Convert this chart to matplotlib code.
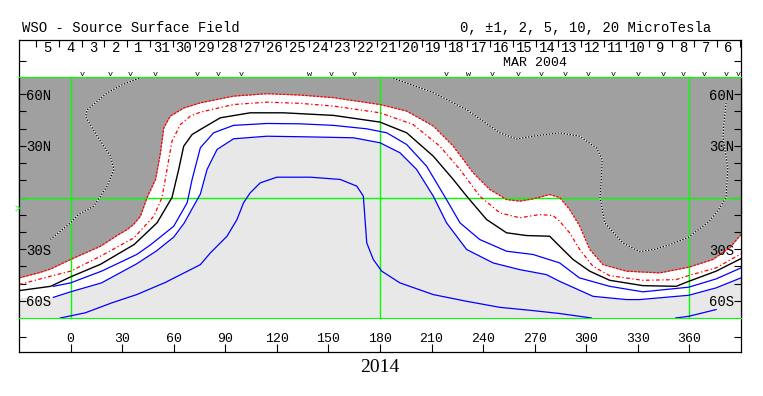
''' WSO source surface field map '''
import numpy as np
import matplotlib.pyplot as plt

# contours: (carrington longitude, latitude)
pos5a_lon = [41.6, 30, 21.3, 9.7, 8.7, 15.5, 23.2, 25.2, 21.3, 13.5, 4.6, 0, -11.8]
pos5a_lat = [70, 65.5, 60.8, 51, 47, 35.6, 24, 16.3, 6.6, -5, -9.9, -14.7, -24.4]

pos5b_lon = [186, 189.7, 211, 230.4, 249.7, 259.4, 269, 284.5, 296, 305.8, 309.3, 308.7, 308,
             310.7, 321.3, 331, 340, 348.4, 359.6, 371.6, 377, 381.3, 382.3, 381.3, 379.5, 380, 381.3]
pos5b_lat = [70, 68.6, 60.9, 51, 37.6, 34, 35.6, 37.6, 35.6, 28.9, 22, 10.5, 0,
             -14.7, -26.4, -31.5, -30, -27.5, -23, -13.8, -7, 0, 16.3, 24, 35, 42, 55]

pos2_lon = [-30, -18.6, -11.6, 0, 17.4, 27.9, 32.9, 36.6, 40.6, 44.5, 49.4, 52.3, 54.2, 58, 65.8,
            75.5, 94.8, 114.2, 133.6, 152.9, 180, 195.5, 211, 222.6, 234.2, 243.9, 253.6, 261.3,
            269, 278.7, 284.5, 290.3, 296.2, 302, 309.7, 323.3, 342.6, 359.6, 373.6, 383.3, 390]
pos2_lat = [-46.7, -43.8, -41.5, -36, -28.3, -21.5, -18.6, -15.7, -10.9, 0, 10.5, 26, 40.5, 47.3, 52,
            55, 58.9, 60.3, 59.5, 58, 54, 50.2, 41.5, 29.8, 14.3, 4.6, -1.2, -2.1,
            -0.8, 1.7, 0, -7, -16.7, -30.2, -39, -42.8, -43.8, -40.5, -36, -29.3, -21.5]

pos1_lon = [-30, -11.6, 0, 17.4, 36.8, 48.4, 53.2, 56.1, 59, 63.9, 69.7, 75.5, 94.8, 114.2, 133.6,
            152.9, 180, 199.3, 214.8, 226.5, 238, 249.7, 261.3, 272.9, 280.7, 284.5, 290.3, 296.2,
            303.9, 313.6, 332.9, 352.3, 359.6, 375.5, 390]
pos1_lat = [-50.6, -45.7, -42.8, -34.1, -23.5, -10.9, 0, 16.3, 32.7, 42.4, 47.3, 49.6, 54, 55.4, 54.7,
            53.1, 49.2, 42.4, 29.8, 16.3, 0.8, -8.9, -11.8, -9.9, -10.5, -13.8, -20.5, -30.2,
            -40, -45.4, -48.1, -47.7, -45.3, -40.9, -32.7]

zero_lon = [-30, -11.6, 0, 17.4, 37, 50.3, 59, 62.9, 65.8, 70.7, 75.5, 87.1, 104.5, 123.9, 152.9,
            180, 195.5, 211, 222.6, 230.4, 242, 253.6, 265.2, 278.7, 284.5, 292.3, 302, 313.6,
            332.9, 352.3, 359.6, 375.5, 390]
zero_lat = [-54.1, -51.6, -46.1, -38.8, -27.3, -14.7, 0, 16.3, 29.8, 36.6, 39.5, 46.3, 49.2, 49.2, 47.7,
            43.8, 37.6, 24, 10.5, 0.8, -12.8, -20.5, -22.1, -22.5, -28.3, -36, -42.8, -48.1,
            -51.2, -51.6, -48.7, -42.8, -35.5]

neg1_lon = [-10, 0, 18, 38.5, 46.5, 60, 67.8, 70.7, 75.5, 83.2, 94.8, 114.2, 133.6, 152.9, 172.3,
            183.9, 195.5, 207.1, 218.7, 226.5, 238, 253.6, 269, 284.5, 296, 313.6, 332.9, 359.6,
            375.5, 390]
neg1_lat = [-51.6, -49.6, -42.8, -33.1, -27.5, -16.7, -3.1, 10.5, 28.9, 37.6, 41.9, 43, 42.8, 41.9, 39.9,
            37.6, 30.8, 18.2, -1.2, -14.7, -24.4, -31.2, -33.1, -38, -46.7, -51.6, -54.8, -52.1,
            -47.3, -40.9]

neg2_lon = [-10, 0, 18, 38.5, 50, 60, 66, 71, 75.5, 79.4, 85.2, 94.8, 114.2, 133.6, 164.5, 180,
            191.6, 201.3, 211, 218.7, 230.4, 245.8, 261.3, 276.8, 284.5, 303.9, 323.3, 331, 359.6,
            375.5, 390]
neg2_lat = [-58, -54.8, -49.6, -38.5, -31, -23, -15, -6, 2, 16.3, 27.9, 34.1, 35.6, 35.3, 34.7, 31.8,
            26, 16.3, 0.8, -14.7, -30.2, -38, -41.9, -44.8, -48.7, -57.4, -59.3, -59.3, -56.8,
            -52.5, -46.7]

neg5a_lon = [-6, 8.5, 24, 38.5, 55, 75.5, 81.3, 91, 96.8, 100.6, 104.5, 110.3, 120, 139.4, 156.8,
             166.5, 170.3, 171.3, 172.3, 176.1, 181, 191.6, 211, 230.4, 249.7, 269, 284.5, 296, 303]
neg5a_lat = [-70, -67, -61.2, -56.4, -49.4, -39, -32.2, -22.5, -12.8, -3.1, 2.7, 8.5, 11.8, 11.8, 10.5,
             6.6, 0.8, -12.8, -26.4, -36, -42.8, -49.6, -56.4, -60.3, -63.8, -65.7, -67.4, -69, -70]
neg5b_lon = [352, 359.6, 375.5]
neg5b_lat = [-70, -69, -65.1]

# axis labels / annotations
lon_ticks = [0, 30, 60, 90, 120, 150, 180, 210, 240, 270, 300, 330, 360]
lat_ticks = [-60, -50, -40, -30, -20, -10, 0, 10, 20, 30, 40, 50, 60]
lat_labels = ['60S', '', '', '30S', '', '', '', '', '', '30N', '', '', '60N']
dias = ['5', '4', '3', '2', '1', '31', '30', '29', '28', '27', '26', '25', '24', '23', '22', '21',
        '20', '19', '18', '17', '16', '15', '14', '13', '12', '11', '10', '9', '8', '7', '6']
dia0 = -19.9     # first day separator (deg)
paso_dia = 13.2  # deg per day
obs_lon = [6.8, 22.8, 34.8, 49.4, 73.6, 85.8, 99.1, 139, 151.4, 164.9, 218.8, 231.3, 245.2, 260.3,
           273.9, 287.9, 301.4, 315.5, 330.4, 344.5, 356.2, 368.8, 381.4, 388.5]
obs_tipo = ['v', 'v', 'v', 'v', 'v', 'v', 'v', 'w', 'v', 'v', 'v', 'w', 'v', 'v',
            'v', 'v', 'v', 'v', 'v', 'v', 'v', 'v', 'v', 'v']

mono = 'Liberation Mono'
verde = '#00ff00'
W, H = 763, 396

fig = plt.figure(figsize=(W / 100, H / 100), dpi=100)

# outer frame, vertical coordinate in pixels
fr = fig.add_axes([19 / W, (H - 352) / H, 722 / W, 312 / H])
fr.set_xlim(-30, 390)
fr.set_ylim(352, 40)
fr.set_xticks(lon_ticks)
fr.set_xticklabels([str(t) for t in lon_ticks], family=mono, fontsize=9.5)
fr.tick_params(axis='x', direction='in', length=6, width=0.8, pad=-14)
fr.set_yticks([60.5, 336.5])
fr.tick_params(axis='y', direction='in', length=5, width=0.8, left=True, right=True,
               labelleft=False)
for s in fr.spines.values():
    s.set_linewidth(0.9)

sep = dia0 + paso_dia * np.arange(len(dias) + 1)
fr.vlines(sep, 40, 46.5, color='black', lw=0.8)
for i, d in enumerate(dias):
    fr.text(sep[i] + paso_dia / 2, 48, d, ha='center', va='center', family=mono, fontsize=10)
for x, t in zip(obs_lon, obs_tipo):
    fr.text(x, 75, t, ha='center', va='center', family=mono, fontsize=6)
fr.text(270, 63, 'MAR 2004', ha='center', va='center', family=mono, fontsize=9.5)

# map
ax = fig.add_axes([19 / W, (H - 318) / H, 722 / W, 241 / H])
ax.set_xlim(-30, 390)
ax.set_ylim(-70, 70)
ax.set_facecolor('#a0a0a0')
grid = np.linspace(-30, 390, 3000)
ax.fill_between(grid, -70, np.interp(grid, pos2_lon, pos2_lat), color='white', lw=0)
ax.fill_between(grid, -70, np.interp(grid, neg2_lon, neg2_lat), color='#e8e8e8', lw=0)

for x in [0, 180, 360]:
    ax.axvline(x, color=verde, lw=1)
ax.axhline(0, color=verde, lw=1)

for lo, la in [(pos5a_lon, pos5a_lat), (pos5b_lon, pos5b_lat)]:
    ax.plot(lo, la, color='white', lw=0.9)
    ax.plot(lo, la, color='black', lw=0.9, ls=(0, (1.2, 1.2)))
ax.plot(pos2_lon, pos2_lat, color='red', lw=0.9, ls=(0, (2, 1)))
ax.plot(pos1_lon, pos1_lat, color='red', lw=0.9, ls=(0, (3, 2, 1, 2)))
ax.plot(zero_lon, zero_lat, color='black', lw=1.0)
ax.plot(neg1_lon, neg1_lat, color='blue', lw=0.9)
ax.plot(neg2_lon, neg2_lat, color='blue', lw=0.9)
ax.plot(neg5a_lon, neg5a_lat, color='blue', lw=0.9)
ax.plot(neg5b_lon, neg5b_lat, color='blue', lw=0.9)

ax.set_xticks([])
ax.set_yticks(lat_ticks)
ax.set_yticklabels(lat_labels, family=mono, fontsize=10)
ax.tick_params(axis='y', direction='in', length=5, width=0.8, left=True, right=True,
               labelleft=True, labelright=True, pad=-5)
for t in ax.yaxis.get_major_ticks():
    t.label1.set_ha('left')
    t.label2.set_ha('right')
ax.spines['top'].set_color(verde)
ax.spines['bottom'].set_color(verde)
ax.spines['left'].set_linewidth(0.9)
ax.spines['right'].set_linewidth(0.9)

# titles
fig.text(22 / W, 1 - 28 / H, 'WSO - Source Surface Field', ha='left', va='center',
         family=mono, fontsize=10)
fig.text(711 / W, 1 - 28 / H, '0, \u00b11, 2, 5, 10, 20 MicroTesla', ha='right', va='center',
         family=mono, fontsize=10)
fig.text(17 / W, 1 - 209 / H, '>', color=verde, ha='center', va='center', family=mono, fontsize=7)
fig.text(380 / W, 1 - 367 / H, '2014', ha='center', va='center', family='Liberation Serif',
         fontsize=14)

fig.savefig('out.png', dpi=100)
